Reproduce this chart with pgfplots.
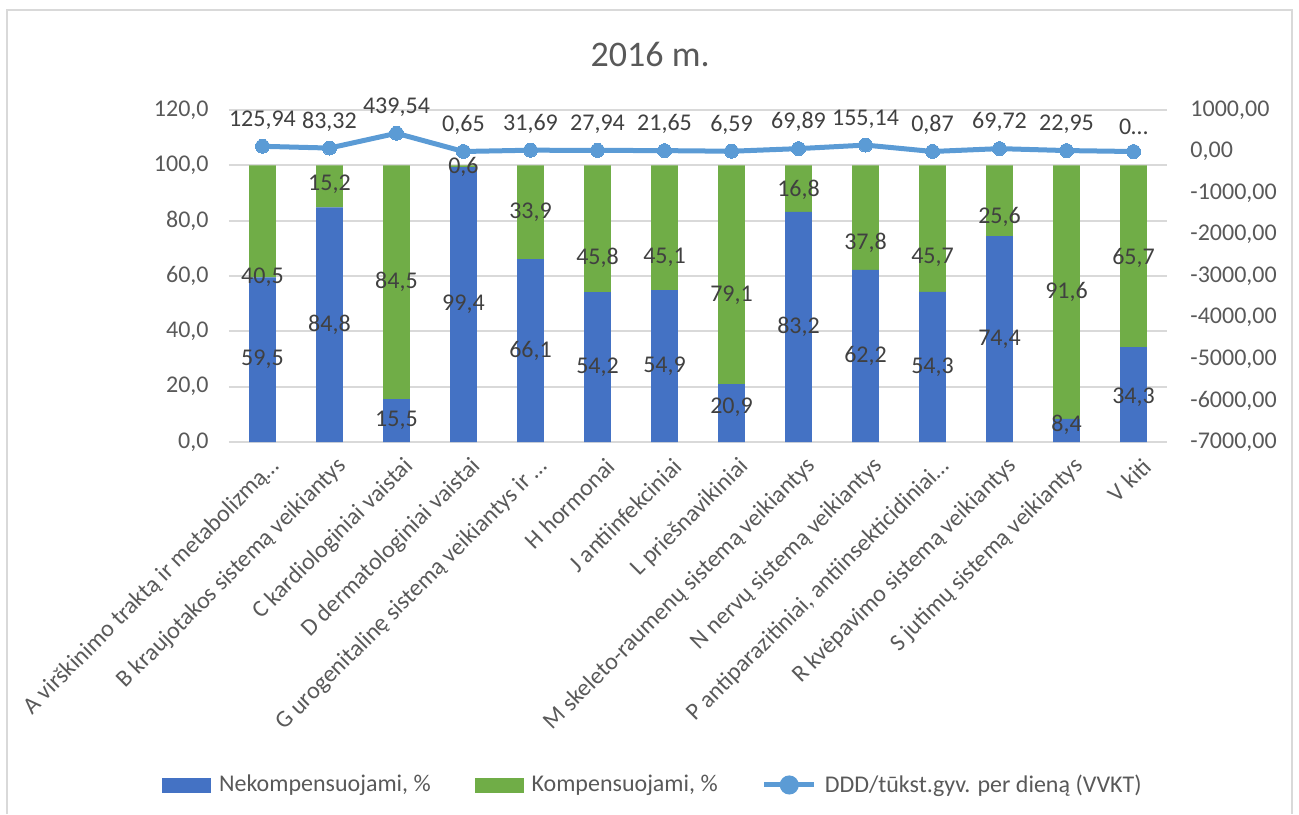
\documentclass[border=0pt]{standalone}
\usepackage{fontspec}
\setmainfont{Carlito}
\usepackage{pgfplots}
\pgfplotsset{compat=1.18}

\definecolor{nek}{HTML}{4472C4}
\definecolor{komp}{HTML}{70AD47}
\definecolor{ddd}{HTML}{5B9BD5}
\definecolor{txt}{HTML}{595959}
\definecolor{lbl}{HTML}{404040}
\definecolor{grd}{HTML}{D9D9D9}

\pgfplotsset{
  base/.style={
    scale only axis, width=469pt, height=166pt,
    xmin=-0.5, xmax=13.5, clip=false,
    axis line style={draw=none}, tick style={draw=none}, major tick length=0pt,
    /pgf/number format/assume math mode=true,
  },
  lab/.style={
    draw=none, mark=none, nodes near coords, point meta=explicit symbolic,
    every node near coord/.style={anchor=center, text=lbl, inner sep=0pt},
  },
}

\begin{document}
\begin{tikzpicture}[font=\fontsize{12}{14}\selectfont]

% bars, left scale
\begin{axis}[base,
  ybar stacked, bar width=0.4,
  ymin=0, ymax=120, ytick={0,20,...,120},
  ymajorgrids, grid style={grd, line width=0.9pt},
  yticklabel style={text=txt, inner sep=0pt, xshift=-10pt,
    /pgf/number format/.cd, fixed, fixed zerofill, precision=1, use comma, 1000 sep={}},
  xtick={0,...,13},
  xticklabels={
    A virškinimo traktą ir metabolizmą…,
    B kraujotakos sistemą veikiantys,
    C kardiologiniai vaistai,
    D dermatologiniai vaistai,
    G urogenitalinę sistemą veikiantys ir …,
    H hormonai,
    J antiinfekciniai,
    L priešnavikiniai,
    M skeleto-raumenų sistemą veikiantys,
    N nervų sistemą veikiantys,
    {P antiparazitiniai, antiinsekticidiniai…},
    R kvėpavimo sistemą veikiantys,
    S jutimų sistemą veikiantys,
    V kiti},
  xticklabel style={text=txt, rotate=45, anchor=east, inner sep=0pt, xshift=-2.5pt, yshift=-12pt},
]
\addplot[fill=nek, draw=none] coordinates {
  (0,59.5) (1,84.8) (2,15.5) (3,99.4) (4,66.1) (5,54.2) (6,54.9)
  (7,20.9) (8,83.2) (9,62.2) (10,54.3) (11,74.4) (12,8.4) (13,34.3)};
\addplot[fill=komp, draw=none] coordinates {
  (0,40.5) (1,15.2) (2,84.5) (3,0.6) (4,33.9) (5,45.8) (6,45.1)
  (7,79.1) (8,16.8) (9,37.8) (10,45.7) (11,25.6) (12,91.6) (13,65.7)};

\node[text=txt, font=\fontsize{18}{22}\selectfont] at (rel axis cs:0.449,1.166) {2016 m.};
\draw[grd, line width=1pt]
  (rel axis cs:-0.2367,-1.1205) -- (rel axis cs:-0.2367,1.3012)
  -- (rel axis cs:1.1333,1.3012) -- (rel axis cs:1.1333,-1.1205);
\coordinate (bbsw) at (rel axis cs:-0.2441,-1.1205);
\coordinate (bbne) at (rel axis cs:1.1407,1.3313);
\end{axis}

% bar value labels, left scale
\begin{axis}[base, hide axis, ymin=0, ymax=120]
\addplot[lab] coordinates {
  (0,29.75) [59,5] (1,42.4) [84,8] (2,7.75) [15,5] (3,49.7) [99,4]
  (4,33.05) [66,1] (5,27.1) [54,2] (6,27.45) [54,9] (7,12.5) [20,9]
  (8,41.6) [83,2] (9,31.1) [62,2] (10,27.15) [54,3] (11,37.2) [74,4]
  (12,6.2) [8,4] (13,16.2) [34,3]};
\addplot[lab] coordinates {
  (0,59.4) [40,5] (1,93.0) [15,2] (2,57.9) [84,5] (3,99.5) [0,6]
  (4,83.2) [33,9] (5,66.6) [45,8] (6,66.6) [45,1] (7,53.2) [79,1]
  (8,91.2) [16,8] (9,72.0) [37,8] (10,66.6) [45,7] (11,81.4) [25,6]
  (12,54.3) [91,6] (13,66.6) [65,7]};
\end{axis}

% DDD line, right scale
\begin{axis}[base,
  axis y line*=right, hide x axis,
  ymin=-7000, ymax=1000, ytick={-7000,-6000,...,1000},
  yticklabel style={text=txt, inner sep=0pt, xshift=11.5pt, anchor=west,
    /pgf/number format/.cd, fixed, fixed zerofill, precision=2, use comma, 1000 sep={}},
  legend columns=3,
  legend style={at={(0.452,-1.033)}, anchor=center, draw=none, fill=none,
    inner sep=0pt, nodes={inner sep=1pt, text=txt},
    /tikz/every odd column/.append style={column sep=3pt},
    /tikz/every even column/.append style={column sep=21pt}},
]
\addlegendimage{legend image code/.code={\fill[nek] (0pt,-3.5pt) rectangle (24pt,3.5pt);}}
\addlegendentry{Nekompensuojami, \%}
\addlegendimage{legend image code/.code={\fill[komp] (0pt,-3.5pt) rectangle (24pt,3.5pt);}}
\addlegendentry{Kompensuojami, \%}
\addplot[ddd, line width=2.5pt, mark=*, mark size=3.5pt,
  mark options={fill=ddd, draw=ddd, line width=0pt},
  nodes near coords, point meta=explicit symbolic,
  every node near coord/.style={anchor=south, text=lbl, yshift=5pt},
  legend image code/.code={
    \draw[ddd, line width=2.5pt] (0pt,0pt) -- (25pt,0pt);
    \fill[ddd] (12.5pt,0pt) circle (3.5pt);}]
  coordinates {
  (0,125.94) [125,94] (1,83.32) [83,32] (2,439.54) [439,54] (3,0.65) [0,65]
  (4,31.69) [31,69] (5,27.94) [27,94] (6,21.65) [21,65] (7,6.59) [6,59]
  (8,69.89) [69,89] (9,155.14) [155,14] (10,0.87) [0,87] (11,69.72) [69,72]
  (12,22.95) [22,95] (13,0) [0…]};
\addlegendentry{DDD/tūkst.gyv. per dieną (VVKT)}
\end{axis}

\pgfresetboundingbox
\useasboundingbox (bbsw) rectangle (bbne);
\end{tikzpicture}
\end{document}
